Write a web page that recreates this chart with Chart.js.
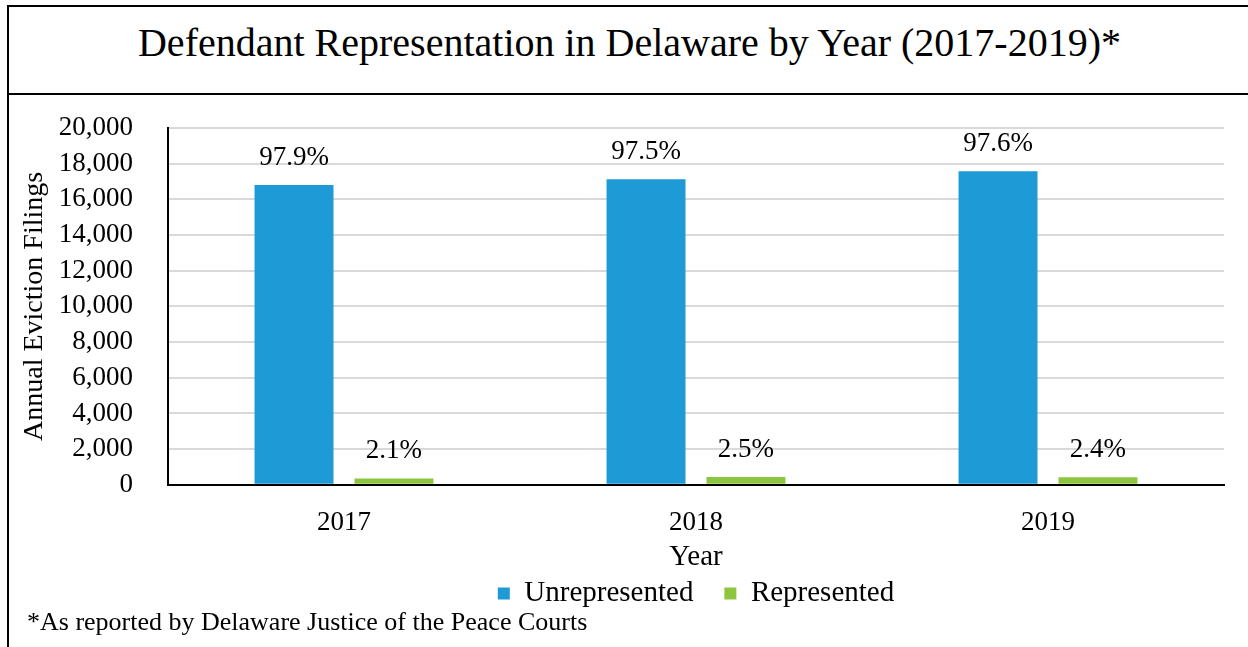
<!DOCTYPE html>
<html>
<head>
<meta charset="utf-8">
<script src="https://cdn.jsdelivr.net/npm/chart.js@4"></script>
<style>
  body { margin: 0; background: #fff; font-family: "Liberation Serif", serif; }
  #frame { position: absolute; left: 7px; top: 5px; width: 1300px; height: 700px;
           border-left: 2px solid #000; border-top: 2px solid #000; }
  #title { height: 86px; border-bottom: 2px solid #000; font-size: 40px; text-align: center;
           line-height: 72px; width: 1241px; color: #000; }
  #wrap { position: absolute; left: 2px; top: 89px; width: 1237px; height: 522px; }
  #note { position: absolute; left: 18px; top: 600px; font-size: 26px; line-height: 30px;
          color: #000; white-space: nowrap; }
</style>
</head>
<body>
<div id="frame">
  <div id="title">Defendant Representation in Delaware by Year (2017-2019)*</div>
  <div id="wrap"><canvas id="graph"></canvas></div>
  <div id="note">*As reported by Delaware Justice of the Peace Courts</div>
</div>
<script>
var years = ['2017', '2018', '2019'];
var unrepresented = [16800, 17130, 17580];
var represented = [360, 440, 430];
var unrepPct = ['97.9%', '97.5%', '97.6%'];
var repPct = ['2.1%', '2.5%', '2.4%'];
var yTicks = [0, 2000, 4000, 6000, 8000, 10000, 12000, 14000, 16000, 18000, 20000];

var context = document.querySelector('#graph').getContext('2d');
Chart.defaults.font.family = '"Liberation Serif", serif';
Chart.defaults.color = '#000';

// percentage labels above every bar
var pctLabels = {
  id: 'pctLabels',
  afterDatasetsDraw: function(chart) {
    var ctx = chart.ctx;
    var texts = [unrepPct, repPct];
    ctx.save();
    ctx.font = '27px "Liberation Serif", serif';
    ctx.fillStyle = '#000';
    ctx.textAlign = 'center';
    ctx.textBaseline = 'alphabetic';
    chart.data.datasets.forEach(function(ds, i) {
      chart.getDatasetMeta(i).data.forEach(function(bar, j) {
        ctx.fillText(texts[i][j], bar.x, bar.y - 20);
      });
    });
    ctx.restore();
  }
};

var chart = new Chart(context, {
  type: 'bar',
  data: {
    labels: years,
    datasets: [{
      label: 'Unrepresented',
      data: unrepresented,
      backgroundColor: '#1e9ad6',
      categoryPercentage: 0.568,
      barPercentage: 0.79
    }, {
      label: 'Represented',
      data: represented,
      backgroundColor: '#8cc63f',
      categoryPercentage: 0.568,
      barPercentage: 0.79
    }]
  },
  options: {
    responsive: true,
    maintainAspectRatio: false,
    animation: false,
    layout: { padding: { top: 32, right: 24, bottom: 0, left: 0 } },
    plugins: {
      legend: {
        position: 'bottom',
        fullSize: false,
        labels: {
          boxWidth: 12, boxHeight: 12, padding: 2, font: { size: 29 },
          generateLabels: function(chart) {
            var items = Chart.defaults.plugins.legend.labels.generateLabels(chart);
            items[0].text = items[0].text + '    ';
            return items;
          }
        }
      },
      tooltip: { enabled: false }
    },
    scales: {
      x: {
        grid: { display: false, drawTicks: false },
        border: { color: '#000', width: 2 },
        ticks: { padding: 22, font: { size: 27 } },
        title: { display: true, text: 'Year', font: { size: 29 }, padding: { top: -21, bottom: 2 } }
      },
      y: {
        min: 0,
        max: 20000,
        afterBuildTicks: function(axis) {
          axis.ticks = yTicks.map(function(v) { return { value: v }; });
        },
        afterFit: function(axis) {
          axis.width = 157;
          axis.paddingTop = 16;
          axis.paddingBottom = 16;
        },
        grid: { color: '#d9d9d9', lineWidth: 2, drawTicks: false },
        border: { color: '#000', width: 2 },
        ticks: {
          autoSkip: false,
          padding: 35,
          font: { size: 27 },
          callback: function(v) { return v.toLocaleString('en-US'); }
        },
        title: { display: true, text: 'Annual Eviction Filings', font: { size: 28 }, padding: { top: 7, bottom: 0 } }
      }
    }
  },
  plugins: [pctLabels]
});
</script>
</body>
</html>
